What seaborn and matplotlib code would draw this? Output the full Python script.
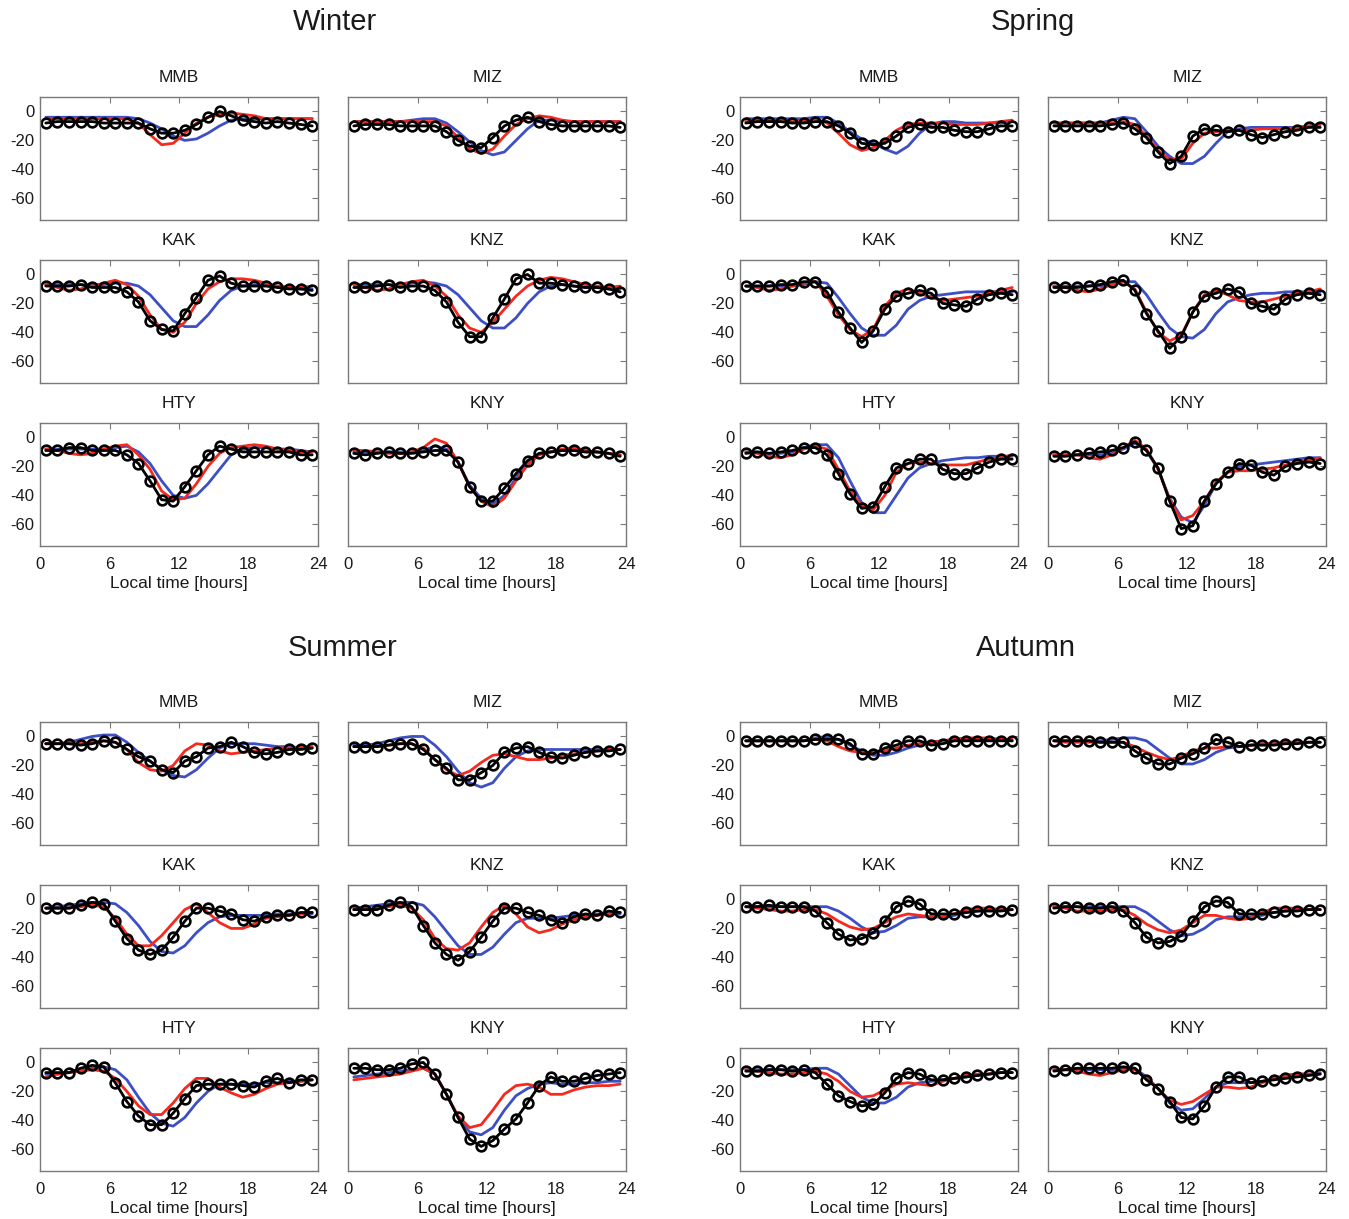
import matplotlib
matplotlib.use("Agg")
import matplotlib.pyplot as plt
import seaborn as sns
import pandas as pd

# ---------------- data ----------------
hours = [0.5, 1.5, 2.5, 3.5, 4.5, 5.5, 6.5, 7.5, 8.5, 9.5, 10.5, 11.5,
         12.5, 13.5, 14.5, 15.5, 16.5, 17.5, 18.5, 19.5, 20.5, 21.5, 22.5, 23.5]
stations = ["MMB", "MIZ", "KAK", "KNZ", "HTY", "KNY"]
seasons = ["Winter", "Spring", "Summer", "Autumn"]
x_ticks = [0, 6, 12, 18, 24]
y_ticks = [0, -20, -40, -60]
x_label = "Local time [hours]"

# observed (black, circles)
winter_obs = {
    "MMB": [-8,-7,-7,-7,-7,-8,-8,-8,-8,-12,-15,-15,-13,-9,-4,0,-3,-6,-7,-8,-7,-8,-9,-10],
    "MIZ": [-10,-9,-9,-9,-10,-10,-10,-10,-14,-20,-24,-25,-18,-10,-6,-4,-7,-9,-10,-10,-10,-10,-10,-11],
    "KAK": [-8,-8,-8,-7,-9,-9,-9,-12,-19,-32,-38,-39,-27,-16,-4,-1,-6,-8,-8,-8,-9,-10,-10,-11],
    "KNZ": [-9,-9,-8,-7,-9,-8,-8,-11,-19,-33,-43,-43,-30,-17,-3,0,-6,-6,-7,-8,-9,-9,-10,-12],
    "HTY": [-9,-9,-7,-7,-9,-9,-9,-12,-18,-30,-43,-44,-34,-23,-12,-6,-8,-10,-10,-10,-10,-10,-12,-12],
    "KNY": [-11,-12,-11,-10,-11,-11,-10,-9,-9,-17,-34,-44,-44,-35,-25,-16,-11,-10,-9,-9,-10,-10,-11,-13],
}
spring_obs = {
    "MMB": [-8,-7,-7,-7,-8,-8,-7,-7,-10,-15,-22,-23,-22,-17,-11,-9,-11,-11,-13,-14,-14,-12,-10,-10],
    "MIZ": [-10,-10,-10,-10,-10,-9,-8,-12,-18,-28,-36,-31,-17,-12,-13,-14,-13,-16,-18,-16,-14,-13,-11,-11],
    "KAK": [-8,-8,-8,-7,-7,-5,-5,-12,-26,-37,-47,-39,-24,-15,-13,-11,-13,-20,-21,-22,-17,-14,-13,-14],
    "KNZ": [-9,-9,-9,-8,-7,-5,-4,-11,-27,-39,-51,-43,-26,-15,-13,-10,-12,-20,-22,-24,-17,-14,-13,-14],
    "HTY": [-11,-10,-11,-10,-9,-7,-7,-12,-25,-39,-49,-48,-34,-21,-18,-15,-15,-22,-25,-25,-21,-17,-15,-15],
    "KNY": [-13,-13,-12,-11,-10,-9,-7,-3,-9,-21,-44,-63,-61,-44,-32,-24,-18,-19,-24,-26,-20,-18,-17,-18],
}
summer_obs = {
    "MMB": [-5,-5,-5,-6,-5,-3,-4,-9,-14,-17,-23,-25,-17,-14,-8,-7,-4,-7,-11,-12,-11,-9,-9,-8],
    "MIZ": [-7,-7,-7,-6,-5,-5,-9,-16,-22,-30,-30,-25,-20,-11,-8,-7,-11,-14,-15,-13,-11,-10,-10,-9],
    "KAK": [-6,-6,-6,-4,-2,-3,-15,-27,-35,-38,-35,-26,-15,-6,-6,-8,-10,-14,-15,-12,-11,-11,-9,-9],
    "KNZ": [-7,-7,-7,-4,-2,-5,-18,-30,-38,-42,-36,-26,-15,-6,-6,-9,-11,-14,-16,-12,-10,-11,-8,-9],
    "HTY": [-7,-7,-7,-4,-2,-3,-14,-27,-37,-43,-43,-35,-25,-16,-15,-15,-15,-16,-17,-13,-11,-14,-12,-12],
    "KNY": [-4,-4,-5,-5,-4,-1,0,-8,-22,-38,-53,-58,-54,-46,-39,-28,-16,-10,-13,-13,-11,-9,-8,-7],
}
autumn_obs = {
    "MMB": [-3,-3,-3,-3,-3,-3,-2,-2,-2,-5,-12,-12,-8,-6,-3,-3,-6,-5,-3,-3,-3,-3,-3,-3],
    "MIZ": [-3,-3,-3,-3,-4,-4,-4,-10,-15,-19,-19,-15,-12,-8,-2,-4,-7,-6,-6,-6,-5,-5,-4,-4],
    "KAK": [-5,-5,-4,-5,-5,-5,-8,-16,-24,-28,-27,-23,-15,-5,-1,-3,-10,-10,-10,-9,-8,-8,-8,-7],
    "KNZ": [-6,-5,-5,-6,-6,-5,-8,-16,-26,-30,-29,-25,-15,-5,-1,-2,-10,-10,-10,-9,-8,-8,-7,-7],
    "HTY": [-6,-6,-5,-5,-6,-5,-7,-15,-23,-27,-30,-29,-21,-11,-7,-8,-12,-12,-11,-10,-9,-8,-7,-7],
    "KNY": [-6,-5,-4,-4,-4,-4,-3,-4,-12,-18,-27,-38,-39,-30,-17,-10,-10,-14,-13,-12,-11,-10,-9,-8],
}

# model 1 (red)
winter_red = {
    "MMB": [-5,-5,-5,-5,-5,-5,-5,-5,-8,-16,-23,-22,-15,-8,-4,-2,-1,-2,-3,-5,-5,-5,-5,-5],
    "MIZ": [-7,-7,-7,-7,-7,-7,-7,-7,-10,-18,-26,-29,-26,-17,-9,-5,-3,-4,-6,-7,-7,-7,-7,-7],
    "KAK": [-7,-9,-11,-10,-8,-6,-4,-7,-15,-28,-38,-40,-33,-20,-10,-5,-3,-3,-4,-6,-8,-9,-9,-8],
    "KNZ": [-7,-9,-11,-10,-7,-5,-4,-8,-15,-28,-37,-40,-33,-24,-15,-8,-4,-2,-3,-5,-7,-8,-9,-8],
    "HTY": [-8,-9,-11,-12,-11,-8,-6,-5,-12,-22,-37,-43,-42,-32,-20,-11,-7,-6,-5,-6,-8,-9,-10,-10],
    "KNY": [-9,-9,-10,-11,-11,-10,-7,-1,-4,-17,-34,-44,-48,-42,-30,-19,-12,-10,-8,-7,-9,-10,-11,-12],
}
spring_red = {
    "MMB": [-7,-7,-7,-7,-7,-7,-5,-8,-15,-23,-27,-25,-20,-13,-9,-8,-8,-8,-9,-9,-9,-8,-7,-6],
    "MIZ": [-8,-8,-8,-8,-8,-8,-7,-9,-17,-27,-33,-33,-22,-15,-14,-13,-13,-13,-12,-12,-12,-11,-10,-9],
    "KAK": [-8,-9,-11,-10,-8,-6,-5,-15,-28,-38,-43,-38,-22,-13,-10,-13,-16,-18,-17,-16,-15,-13,-11,-9],
    "KNZ": [-8,-9,-11,-12,-10,-7,-5,-10,-26,-40,-46,-42,-26,-14,-11,-14,-18,-19,-19,-17,-15,-13,-12,-10],
    "HTY": [-10,-11,-13,-14,-12,-8,-6,-8,-22,-37,-47,-50,-40,-24,-18,-17,-18,-19,-19,-19,-17,-15,-14,-12],
    "KNY": [-12,-12,-12,-14,-15,-12,-7,-2,-8,-22,-43,-57,-54,-44,-31,-24,-23,-23,-22,-21,-19,-17,-16,-14],
}
summer_red = {
    "MMB": [-5,-5,-5,-5,-4,-3,-4,-9,-18,-23,-24,-20,-10,-5,-6,-10,-12,-11,-10,-9,-8,-8,-7,-7],
    "MIZ": [-7,-7,-7,-6,-5,-5,-8,-16,-23,-27,-24,-18,-13,-12,-14,-16,-16,-15,-13,-12,-11,-10,-9,-9],
    "KAK": [-6,-6,-6,-5,-4,-5,-13,-24,-32,-32,-25,-16,-7,-3,-9,-16,-20,-20,-17,-13,-12,-11,-10,-9],
    "KNZ": [-7,-7,-6,-5,-4,-6,-14,-27,-34,-35,-30,-19,-9,-4,-10,-19,-23,-21,-17,-14,-12,-11,-10,-9],
    "HTY": [-10,-8,-7,-6,-5,-6,-11,-20,-30,-36,-36,-28,-18,-11,-11,-17,-21,-24,-22,-18,-15,-14,-13,-12],
    "KNY": [-12,-11,-10,-9,-8,-6,-4,-8,-22,-37,-45,-43,-33,-22,-16,-15,-17,-22,-22,-19,-17,-16,-16,-15],
}
autumn_red = {
    "MMB": [-3,-3,-3,-3,-3,-3,-2,-3,-7,-10,-11,-11,-10,-8,-6,-5,-4,-3,-2,-1,-1,-1,-2,-2],
    "MIZ": [-3,-4,-4,-4,-4,-4,-4,-7,-11,-14,-16,-14,-10,-8,-8,-7,-7,-6,-5,-5,-4,-4,-4,-4],
    "KAK": [-5,-6,-7,-8,-8,-7,-7,-10,-15,-19,-21,-20,-16,-12,-10,-11,-12,-12,-10,-7,-6,-6,-7,-7],
    "KNZ": [-5,-6,-8,-8,-8,-7,-7,-11,-17,-21,-23,-21,-16,-11,-11,-13,-14,-13,-9,-6,-6,-6,-7,-7],
    "HTY": [-5,-6,-7,-8,-8,-7,-6,-8,-13,-20,-24,-23,-19,-15,-14,-15,-16,-13,-11,-9,-8,-8,-7,-7],
    "KNY": [-5,-5,-6,-8,-9,-7,-5,-5,-11,-18,-26,-29,-27,-22,-17,-17,-18,-17,-14,-11,-9,-8,-8,-8],
}

# model 2 (blue)
winter_blue = {
    "MMB": [-4,-4,-4,-4,-4,-4,-4,-4,-5,-8,-12,-17,-20,-19,-15,-10,-6,-5,-5,-5,-5,-5,-5,-5],
    "MIZ": [-7,-7,-7,-7,-7,-6,-5,-5,-8,-14,-21,-27,-30,-28,-20,-12,-6,-6,-7,-7,-7,-7,-7,-7],
    "KAK": [-7,-7,-7,-7,-7,-7,-6,-6,-8,-14,-23,-32,-36,-36,-28,-18,-11,-8,-7,-7,-8,-9,-10,-10],
    "KNZ": [-7,-7,-7,-7,-7,-6,-5,-6,-8,-14,-23,-32,-37,-37,-30,-20,-12,-8,-7,-8,-9,-9,-10,-10],
    "HTY": [-8,-8,-8,-8,-8,-8,-7,-6,-10,-18,-30,-40,-42,-40,-32,-22,-12,-8,-7,-7,-8,-8,-9,-10],
    "KNY": [-10,-10,-10,-10,-10,-10,-9,-6,-8,-17,-33,-42,-46,-40,-28,-17,-11,-10,-9,-9,-10,-10,-11,-12],
}
spring_blue = {
    "MMB": [-5,-5,-5,-5,-5,-5,-4,-4,-8,-14,-19,-22,-26,-29,-24,-15,-9,-7,-7,-8,-8,-8,-8,-7],
    "MIZ": [-8,-8,-8,-8,-8,-6,-4,-5,-14,-24,-31,-36,-36,-31,-22,-14,-12,-11,-11,-11,-11,-11,-10,-9],
    "KAK": [-8,-8,-8,-8,-8,-7,-5,-6,-16,-27,-37,-42,-42,-35,-24,-18,-15,-14,-13,-12,-12,-12,-12,-12],
    "KNZ": [-8,-8,-8,-8,-8,-7,-5,-5,-14,-26,-37,-43,-44,-38,-27,-19,-16,-14,-13,-13,-12,-12,-12,-12],
    "HTY": [-10,-10,-11,-11,-10,-7,-5,-5,-14,-30,-45,-52,-52,-40,-28,-21,-18,-16,-15,-14,-14,-13,-13,-13],
    "KNY": [-12,-12,-12,-12,-12,-11,-8,-4,-9,-22,-42,-55,-59,-47,-32,-24,-20,-19,-18,-17,-16,-15,-14,-14],
}
summer_blue = {
    "MMB": [-5,-5,-4,-2,0,1,1,-4,-11,-17,-23,-27,-28,-23,-15,-8,-5,-5,-5,-6,-7,-7,-8,-8],
    "MIZ": [-6,-6,-5,-3,-1,0,0,-6,-14,-24,-32,-35,-32,-22,-14,-10,-9,-9,-9,-9,-9,-9,-9,-9],
    "KAK": [-6,-5,-4,-3,-2,-2,-3,-9,-18,-29,-36,-37,-32,-23,-16,-12,-11,-11,-11,-11,-10,-10,-10,-10],
    "KNZ": [-6,-5,-4,-3,-2,-2,-4,-12,-22,-32,-38,-38,-33,-24,-16,-13,-13,-13,-12,-11,-11,-10,-10,-10],
    "HTY": [-8,-8,-7,-6,-4,-3,-5,-12,-24,-35,-42,-44,-38,-28,-20,-15,-15,-15,-15,-14,-14,-13,-13,-12],
    "KNY": [-10,-9,-8,-7,-6,-5,-4,-8,-22,-38,-48,-50,-45,-33,-23,-18,-15,-14,-15,-15,-14,-14,-13,-13],
}
autumn_blue = {
    "MMB": [-3,-3,-3,-3,-3,-3,-1,0,-2,-6,-10,-13,-13,-11,-8,-6,-4,-3,-2,-2,-2,-2,-2,-3],
    "MIZ": [-3,-3,-3,-3,-3,-2,-1,-1,-3,-9,-15,-19,-19,-16,-11,-8,-7,-6,-5,-5,-4,-4,-4,-4],
    "KAK": [-5,-5,-5,-5,-5,-5,-5,-5,-8,-13,-19,-23,-22,-18,-13,-12,-12,-12,-11,-9,-8,-7,-7,-7],
    "KNZ": [-5,-5,-5,-5,-5,-5,-5,-5,-9,-15,-21,-25,-24,-20,-14,-12,-12,-12,-11,-9,-8,-7,-7,-7],
    "HTY": [-5,-5,-5,-5,-5,-5,-4,-4,-8,-16,-24,-28,-28,-24,-17,-14,-13,-12,-11,-10,-9,-8,-7,-7],
    "KNY": [-5,-5,-5,-5,-5,-5,-4,-4,-10,-18,-28,-33,-32,-25,-17,-14,-14,-14,-13,-11,-9,-8,-8,-7],
}

obs_by_season = {"Winter": winter_obs, "Spring": spring_obs, "Summer": summer_obs, "Autumn": autumn_obs}
red_by_season = {"Winter": winter_red, "Spring": spring_red, "Summer": summer_red, "Autumn": autumn_red}
blue_by_season = {"Winter": winter_blue, "Spring": spring_blue, "Summer": summer_blue, "Autumn": autumn_blue}

# ---------------- style ----------------
sns.set_theme(style="white")
plt.rcParams["font.family"] = ["Liberation Sans", "DejaVu Sans"]
plt.rcParams["axes.unicode_minus"] = False

W, H = 1349, 1219
fig = plt.figure(figsize=(W / 100, H / 100), dpi=100)

col_left = {"Winter": [40, 348], "Spring": [740, 1048], "Summer": [40, 348], "Autumn": [740, 1048]}
row_top = {"Winter": [97, 260, 423], "Spring": [97, 260, 423],
           "Summer": [722, 885, 1048], "Autumn": [722, 885, 1048]}
title_pos = {"Winter": (335, 22), "Spring": (1033, 22), "Summer": (343, 648), "Autumn": (1026, 648)}
aw, ah = 278, 123

RED = "#f52a1f"
BLUE = "#3d4fc4"
FRAME = "#7a7a7a"
TXT = "#1a1a1a"

for season in seasons:
    tx, ty = title_pos[season]
    fig.text(tx / W, 1 - ty / H, season, ha="center", va="center", fontsize=21, color=TXT)
    for k, st in enumerate(stations):
        r, c = divmod(k, 2)
        x0 = col_left[season][c]
        y0 = row_top[season][r]
        ax = fig.add_axes([x0 / W, 1 - (y0 + ah) / H, aw / W, ah / H])
        df = pd.DataFrame({
            "hour": hours,
            "obs": obs_by_season[season][st],
            "red": red_by_season[season][st],
            "blue": blue_by_season[season][st],
        })
        sns.lineplot(data=df, x="hour", y="blue", ax=ax, color=BLUE, linewidth=2.0)
        sns.lineplot(data=df, x="hour", y="red", ax=ax, color=RED, linewidth=2.0)
        sns.lineplot(data=df, x="hour", y="obs", ax=ax, color="black", linewidth=2.0,
                     marker="o", markersize=7, markerfacecolor="none",
                     markeredgecolor="black", markeredgewidth=1.9)
        ax.set_xlim(0, 24)
        ax.set_ylim(-75, 10)
        ax.set_xticks(x_ticks)
        ax.set_yticks(y_ticks)
        ax.set_title(st, fontsize=12.5, pad=11, color=TXT)
        ax.tick_params(direction="in", top=True, right=True, length=4, width=0.8,
                       color=FRAME, labelsize=12, labelcolor=TXT)
        ax.tick_params(axis="x", pad=8)
        ax.tick_params(axis="y", pad=4)
        for sp in ax.spines.values():
            sp.set_color(FRAME)
            sp.set_linewidth(1.0)
        if r == 2:
            ax.set_xlabel(x_label, fontsize=12.5, labelpad=3, color=TXT)
        else:
            ax.set_xlabel("")
            ax.set_xticklabels([])
        if c == 0:
            ax.set_yticklabels([str(v) for v in y_ticks])
        else:
            ax.set_yticklabels([])
        ax.set_ylabel("")

fig.savefig("out.png", dpi=100, facecolor="white")
